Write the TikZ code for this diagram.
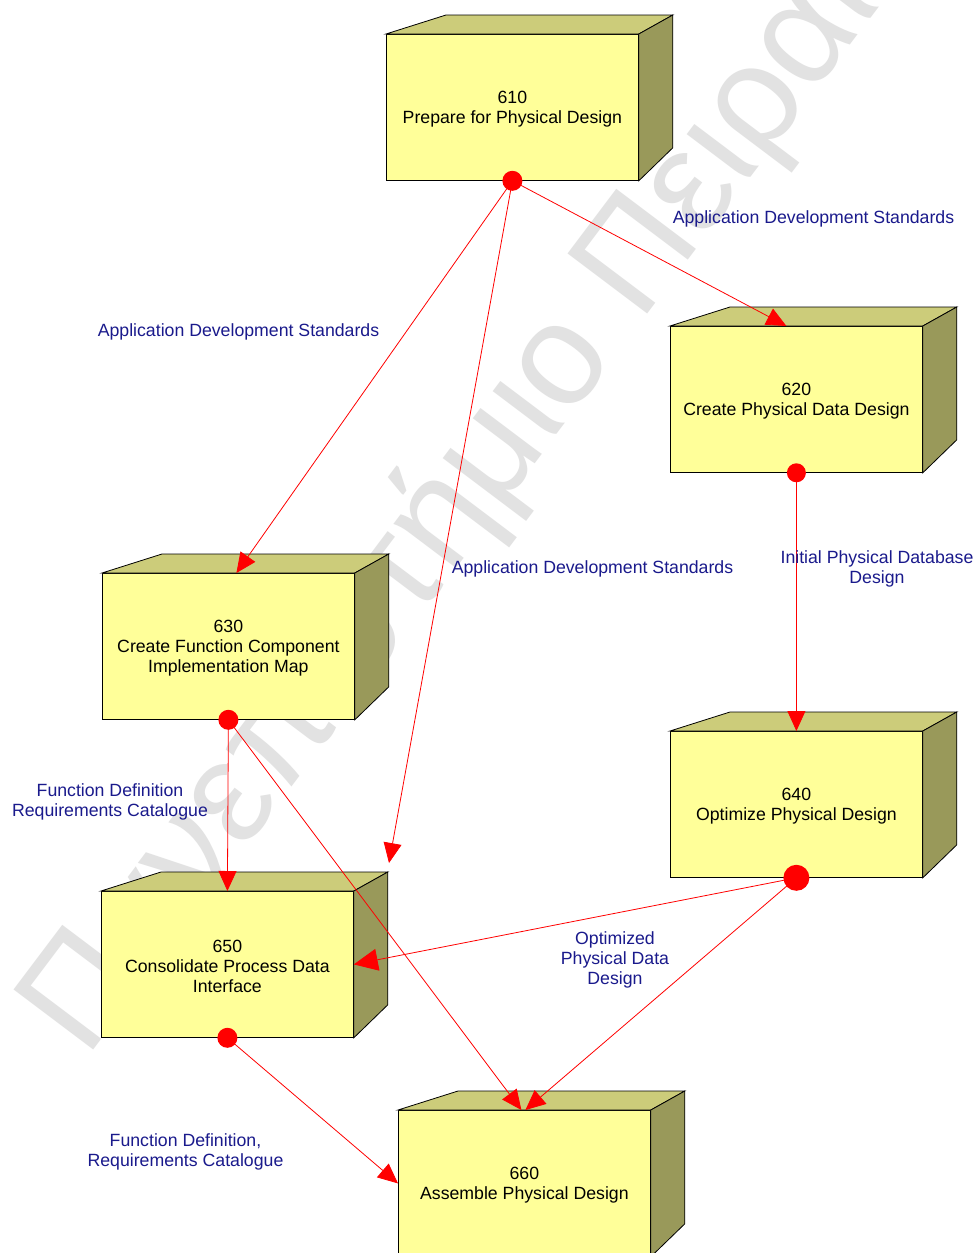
\documentclass[tikz,border=0pt]{standalone}
\usepackage{fontspec}
\setmainfont{Liberation Sans}
\usetikzlibrary{arrows.meta,calc}
\definecolor{frontc}{RGB}{255,255,153}
\definecolor{topc}{RGB}{204,204,122}
\definecolor{sidec}{RGB}{153,153,90}
\definecolor{lblc}{RGB}{26,26,140}
\definecolor{wmc}{RGB}{226,226,226}
\definecolor{linkc}{RGB}{255,0,0}

\tikzset{
  front/.style={draw=black, fill=frontc, line width=0.8pt, minimum width=252pt,
    minimum height=146pt, inner sep=0pt},
  boxtext/.style={align=center, text=black, inner sep=0pt,
    font=\fontsize{17.7}{20}\selectfont},
  topface/.style={draw=black, fill=topc, line width=0.8pt},
  sideface/.style={draw=black, fill=sidec, line width=0.8pt},
  lbl/.style={text=lblc, align=center, inner sep=0pt, font=\fontsize{17.7}{20}\selectfont},
  conn/.style={draw=linkc, line width=0.8pt, -{Triangle[length=20pt,width=18pt]}},
  bigconn/.style={draw=linkc, line width=0.8pt, -{Triangle[length=24pt,width=22pt]}},
  srcdot/.style={fill=linkc},
  wm/.style={text=wmc, inner sep=0pt, font=\fontsize{145}{145}\selectfont}
}

% a box drawn as a front face with a top and a right face behind it
\newcommand\procbox[4]{%
  \node[front, anchor=north west] (#1) at (#2,#3) {};
  \filldraw[topface] (#1.north west) -- ++(60,-19) -- ($(#1.north east)+(34,-19)$)
    -- (#1.north east) -- cycle;
  \filldraw[sideface] (#1.north east) -- ++(34,-19) -- ($(#1.south east)+(34,-33)$)
    -- (#1.south east) -- cycle;
  \node[boxtext] (#1-text) at ($(#1.center)+(0,2)$) {#4};
}

\begin{document}
\begin{tikzpicture}[x=1pt, y=-1pt]
\clip (0,0) rectangle (977,1253);
\fill[white] (0,0) rectangle (977,1253);

% watermark
\node[wm, rotate=53, anchor=base west] (wmark) at (86,1060) {Πανεπιστήμιο Πειραιώς};

% process boxes
\procbox{p610}{386}{34}{610\\Prepare for Physical Design}
\procbox{p620}{670}{326}{620\\Create Physical Data Design}
\procbox{p630}{102}{573}{630\\Create Function Component\\Implementation Map}
\procbox{p640}{670}{731}{640\\Optimize Physical Design}
\procbox{p650}{101}{891}{650\\Consolidate Process Data\\Interface}
\procbox{p660}{398}{1110}{660\\Assemble Physical Design}

% arrow end points
\coordinate (t630) at ($(p630.north)+(8,0)$);
\coordinate (t620) at ($(p620.north)+(-10,0)$);
\coordinate (tfree) at (389,863);
\coordinate (t660a) at ($(p660.north)+(-3,0)$);
\coordinate (t660b) at ($(p660.north)+(1,0)$);

% connectors
\draw[conn] (p610.south) -- (t630);
\draw[conn] (p610.south) -- (tfree);
\draw[conn] (p610.south) -- (t620);
\draw[conn] (p620.south) -- (p640.north);
\draw[conn] (p630.south) -- (p650.north);
\draw[conn] (p630.south) -- (t660a);
\draw[bigconn] (p640.south) -- (p650.east);
\draw[conn] (p640.south) -- (t660b);
\draw[conn] (p650.south) -- (p660.west);

% source dots
\fill[srcdot] (p610.south) circle[radius=10pt];
\fill[srcdot] (p620.south) circle[radius=9.5pt];
\fill[srcdot] (p630.south) circle[radius=10pt];
\fill[srcdot] (p640.south) circle[radius=13pt];
\fill[srcdot] (p650.south) circle[radius=10pt];

% connector labels
\node[lbl] (l1) at (813.5,219) {Application Development Standards};
\node[lbl] (l2) at (238.5,332) {Application Development Standards};
\node[lbl] (l3) at (592.5,569) {Application Development Standards};
\node[lbl] (l4) at (877,569) {Initial Physical Database\\Design};
\node[lbl] (l5) at (110,802) {Function Definition\\Requirements Catalogue};
\node[lbl] (l6) at (615,960) {Optimized\\Physical Data\\Design};
\node[lbl] (l7) at (185.5,1152) {Function Definition,\\Requirements Catalogue};
\end{tikzpicture}
\end{document}
